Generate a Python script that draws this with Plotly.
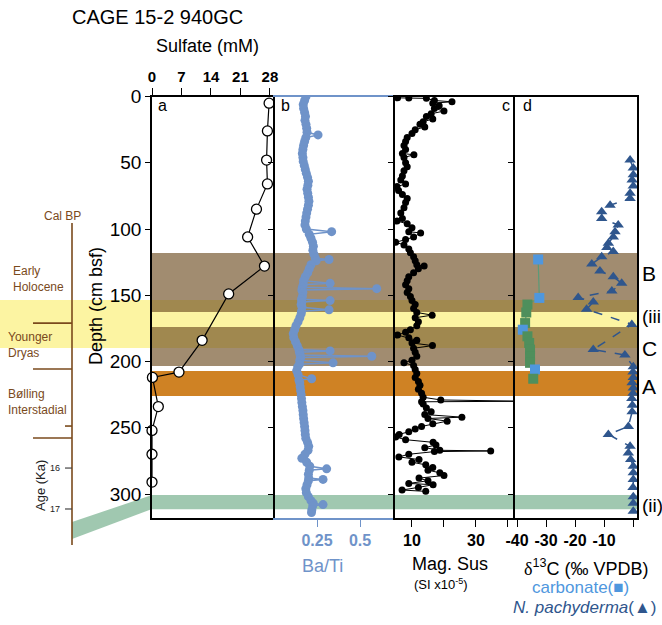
import plotly.graph_objects as go

W, H = 662, 625


def px(x):
    return x / W


def py(y):
    return 1 - y / H


FONT = "Liberation Sans, Arial, sans-serif"

# ---------------- data ----------------
sulfate_depth = [5, 26, 48, 66, 85, 106, 128, 149, 184, 208, 212, 234, 252, 270, 291]
sulfate_mM = [27.8, 27.4, 27.2, 27.4, 24.8, 22.7, 26.7, 18.2, 11.9, 6.4, 0.1, 1.5, 0.0, 0.0, 0.0]

baTi_depth = [
    0, 3, 6, 9, 12, 15, 18, 21, 24, 27,
    29, 31, 34, 37, 40, 43, 46, 49, 52, 55,
    58, 61, 64, 67, 70, 73, 76, 79, 82, 85,
    88, 91, 94, 97, 100, 102, 104, 107, 110, 113,
    116, 119, 122, 123, 124, 127, 130, 133, 136, 139,
    141, 142, 144, 145, 146, 148, 151, 153, 154, 155,
    157, 159, 161, 162, 164, 167, 170, 173, 176, 179,
    182, 185, 188, 191, 192, 193, 195, 196, 197, 199,
    201, 202, 204, 207, 210, 213, 214, 216, 219, 222,
    225, 228, 231, 234, 237, 240, 243, 246, 249, 252,
    255, 258, 261, 264, 267, 270, 273, 276, 279, 281,
    282, 285, 288, 289, 290, 293, 296, 299, 302, 305,
    307, 308, 309, 312, 314,
]
baTi_ratio = [
    0.186, 0.178, 0.170, 0.172, 0.178, 0.183, 0.180, 0.186, 0.190, 0.192,
    0.256, 0.185, 0.178, 0.172, 0.168, 0.165, 0.168, 0.170, 0.176, 0.182,
    0.188, 0.195, 0.200, 0.197, 0.192, 0.196, 0.200, 0.203, 0.200, 0.195,
    0.190, 0.186, 0.182, 0.180, 0.188, 0.335, 0.205, 0.215, 0.224, 0.229,
    0.226, 0.232, 0.240, 0.320, 0.245, 0.215, 0.205, 0.196, 0.182, 0.172,
    0.326, 0.170, 0.165, 0.597, 0.162, 0.168, 0.165, 0.160, 0.326, 0.162,
    0.158, 0.163, 0.320, 0.160, 0.158, 0.150, 0.140, 0.128, 0.120, 0.112,
    0.115, 0.125, 0.135, 0.145, 0.326, 0.148, 0.152, 0.568, 0.155, 0.150,
    0.343, 0.148, 0.138, 0.132, 0.140, 0.219, 0.145, 0.150, 0.152, 0.155,
    0.158, 0.160, 0.162, 0.165, 0.168, 0.170, 0.172, 0.175, 0.178, 0.180,
    0.182, 0.185, 0.195, 0.202, 0.198, 0.180, 0.162, 0.190, 0.208, 0.306,
    0.205, 0.200, 0.202, 0.285, 0.200, 0.192, 0.185, 0.188, 0.200, 0.215,
    0.228, 0.285, 0.225, 0.220, 0.218,
]

magsus_depth = [
    1.0, 1.2, 1.4, 3, 4, 5, 7, 9, 11, 13,
    15, 17, 19, 21, 23, 25, 28, 31, 34, 37,
    40, 43, 44, 46, 50, 53, 56, 60, 63, 66,
    68, 71, 74, 77, 80, 84, 88, 92, 94, 96,
    99, 102, 103, 106, 108, 110, 112, 115, 118, 121,
    124, 127, 128, 130, 133, 136, 139, 142, 145, 148,
    151, 154, 157, 160, 163, 165, 167, 170, 173, 176,
    178, 180, 182, 184, 186, 188, 190, 193, 196, 199,
    201, 203, 206, 209, 212, 215, 218, 221, 224, 227,
    229, 230, 230.4, 232, 235, 238, 240, 242, 243, 245,
    247, 249, 251, 253, 255, 257, 259, 261, 263, 265,
    267, 267.5, 268, 270, 272, 274, 276, 278, 280, 282,
    284, 286, 288, 290, 292, 293, 295, 297, 298,
]
magsus_SI = [
    5.5, 9.0, 14.5, 17.0, 22.5, 16.5, 18.5, 17.0, 20.0, 16.0,
    14.5, 16.5, 13.5, 12.5, 14.0, 11.0, 10.0, 8.5, 8.0, 7.5,
    8.0, 7.0, 10.6, 7.5, 8.0, 8.5, 7.5, 7.0, 6.5, 8.0,
    5.3, 5.8, 7.0, 8.5, 8.0, 7.5, 6.5, 7.0, 5.3, 8.5,
    10.0, 9.0, 12.7, 10.5, 8.0, 4.9, 7.5, 9.0, 9.5, 10.5,
    11.0, 11.5, 13.8, 12.0, 10.5, 9.0, 8.5, 8.0, 9.0, 8.5,
    9.5, 10.0, 11.0, 10.5, 11.5, 16.3, 11.0, 12.0, 11.5, 9.5,
    8.0, 5.5, 9.0, 11.5, 10.0, 16.4, 10.5, 11.0, 11.5, 10.0,
    7.5, 10.5, 11.0, 11.5, 11.0, 12.0, 12.5, 12.0, 13.0, 13.5,
    19.0, 45.0, 13.0, 13.5, 14.5, 16.0, 14.0, 25.6, 15.0, 21.0,
    16.5, 13.0, 11.0, 9.0, 6.0, 4.9, 8.0, 16.6, 17.5, 14.0,
    18.7, 34.6, 17.0, 9.0, 5.9, 12.2, 10.0, 14.3, 16.5, 15.0,
    18.7, 20.0, 12.2, 15.0, 9.0, 16.6, 12.0, 6.9, 14.3,
]

carb_depth = [123, 152, 157, 163, 171, 176, 181, 186, 191, 196, 201, 206, 213]
carb_d13C = [-32.7, -32.3, -36.4, -36.8, -37.2, -38.0, -36.4, -35.8, -35.5, -35.5, -35.5, -33.8, -34.4]
carb_kind = ["blue", "blue", "green", "green", "green", "blue", "green", "green", "green", "green", "green", "blue", "green"]

npac_depth = [
    48, 54, 59, 63, 67.5, 73, 77, 82, 87, 92,
    97, 102, 106, 110.7, 114, 117, 121, 126.4, 131.7, 136,
    141, 146.8, 151.6, 155, 160.6, 172, 191, 195, 204, 208,
    212, 216, 220, 224, 228, 233, 238, 249, 255, 264,
    269, 274, 279, 284, 289, 295, 302, 307, 313,
]
npac_d13C = [
    -1.0, 0.1, 0.1, -0.3, 0.1, -1.0, -1.0, -7.9, -10.8, -10.8,
    -5.1, -6.2, -6.8, -8.5, -9.0, -6.8, -10.8, -14.2, -11.4, -6.8,
    -3.9, -7.3, -18.9, -13.7, -16.0, -0.4, -13.7, -2.8, 0.1, 0.0,
    0.1, -0.3, 0.1, 0.0, -0.4, -0.2, -0.3, -1.6, -8.5, -1.0,
    -1.6, -0.8, 0.1, 0.1, 0.1, 0.0, 0.1, 0.1, 0.1,
]

# depth intervals of highlighted horizons (cm bsf)
yellow_band = (153.6, 189.8)      # Younger Dryas
brown_B = (118.1, 162.6)
brown_C = (173.9, 203.4)
orange_A = (207.2, 226.0)
green_ii = (300.8, 311.5)

# chronology boundaries on the left scale (depth-equivalent)
chron_long_ticks = [171.0, 205.7, 257.7]
chron_short_ticks = [248.7]
age_ticks_depth = [280.4, 311.3]
age_tick_labels = ["16", "17"]

# ---------------- colours ----------------
BATI_C = "#6f93c9"
NPAC_C = "#2f568d"
CARB_BLUE = "#4f97de"
CARB_GREEN = "#4f8f5c"
BROWN_TXT = "#7a4a1c"

# ---------------- figure ----------------
fig = go.Figure()

fig.add_trace(go.Scatter(
    x=sulfate_mM, y=sulfate_depth, xaxis="x", yaxis="y", mode="lines+markers",
    line=dict(color="black", width=1.2),
    marker=dict(symbol="circle", size=10, color="white", line=dict(color="black", width=1.3)),
    cliponaxis=False, showlegend=False))

fig.add_trace(go.Scatter(
    x=baTi_ratio, y=baTi_depth, xaxis="x2", yaxis="y2", mode="lines+markers",
    line=dict(color=BATI_C, width=1.5),
    marker=dict(size=9, color=BATI_C), showlegend=False))

fig.add_trace(go.Scatter(
    x=magsus_SI, y=magsus_depth, xaxis="x3", yaxis="y3", mode="lines+markers",
    line=dict(color="black", width=1),
    marker=dict(size=7, color="black"), showlegend=False))

fig.add_trace(go.Scatter(
    x=carb_d13C, y=carb_depth, xaxis="x4", yaxis="y4", mode="lines+markers",
    line=dict(color="#5a9a78", width=1.2),
    marker=dict(symbol="square", size=10,
                color=[CARB_BLUE if k == "blue" else CARB_GREEN for k in carb_kind]),
    cliponaxis=False, showlegend=False))

fig.add_trace(go.Scatter(
    x=npac_d13C, y=npac_depth, xaxis="x4", yaxis="y4", mode="lines+markers",
    line=dict(color=NPAC_C, width=1.5, dash="dash"),
    marker=dict(symbol="triangle-up", size=10, color=NPAC_C),
    cliponaxis=False, showlegend=False))

# ---------------- bands ----------------
shapes = []
shapes.append(dict(type="rect", xref="paper", yref="y", x0=0, x1=px(637),
                   y0=yellow_band[0], y1=yellow_band[1], fillcolor="#fcf4a2",
                   line=dict(width=0), layer="below"))
for b in (brown_B, brown_C):
    shapes.append(dict(type="rect", xref="paper", yref="y", x0=px(152), x1=px(637),
                       y0=b[0], y1=b[1], fillcolor="rgba(110,78,36,0.65)",
                       line=dict(width=0), layer="below"))
shapes.append(dict(type="rect", xref="paper", yref="y", x0=px(152), x1=px(637),
                   y0=orange_A[0], y1=orange_A[1], fillcolor="#cf8224",
                   line=dict(width=0), layer="below"))
shapes.append(dict(type="rect", xref="paper", yref="y", x0=px(152), x1=px(637),
                   y0=green_ii[0], y1=green_ii[1], fillcolor="#a0c8b0",
                   line=dict(width=0), layer="below"))
shapes.append(dict(type="path", xref="paper", yref="paper",
                   path=f"M {px(152)} {py(495)} L {px(152)} {py(509)} L {px(72)} {py(539)} L {px(72)} {py(522)} Z",
                   fillcolor="#a0c8b0", line=dict(width=0), layer="below"))

shapes.append(dict(type="line", xref="paper", yref="paper", x0=px(72), x1=px(72),
                   y0=py(223), y1=py(545), line=dict(color=BROWN_TXT, width=1.6)))
for d in chron_long_ticks:
    shapes.append(dict(type="line", xref="paper", yref="y", x0=px(33), x1=px(72),
                       y0=d, y1=d, line=dict(color=BROWN_TXT, width=1.6)))
for d in chron_short_ticks:
    shapes.append(dict(type="line", xref="paper", yref="y", x0=px(65), x1=px(72),
                       y0=d, y1=d, line=dict(color=BROWN_TXT, width=1.6)))
for d in age_ticks_depth:
    shapes.append(dict(type="line", xref="paper", yref="y", x0=px(65), x1=px(72),
                       y0=d, y1=d, line=dict(color="#444444", width=1.2)))

# ---------------- annotations ----------------
ann = []


def txt(x, y, s, size, color="black", xanchor="center", yanchor="middle", angle=0, **kw):
    ann.append(dict(x=px(x), y=py(y), xref="paper", yref="paper", text=s, showarrow=False,
                    font=dict(family=FONT, size=size, color=color), xanchor=xanchor,
                    yanchor=yanchor, textangle=angle, **kw))


txt(157, 17, "CAGE 15-2 940GC", 20)
txt(207, 46, "Sulfate (mM)", 18)
txt(96, 306, "Depth (cm bsf)", 18, angle=-90)
txt(156, 106, "a", 16, xanchor="left")
txt(279, 106, "b", 16, xanchor="left")
txt(512, 106, "c", 16, xanchor="right")
txt(521, 106, "d", 16, xanchor="left")

txt(640, 273, "B", 21, xanchor="left")
txt(640, 316, "(iii", 19, xanchor="left")
txt(640, 348, "C", 21, xanchor="left")
txt(640, 386, "A", 21, xanchor="left")
txt(640, 505, "(ii)", 19, xanchor="left")

txt(62, 216, "Cal BP", 12, BROWN_TXT)
txt(11, 279, "Early<br>Holocene", 12, BROWN_TXT, xanchor="left", align="left")
txt(6, 345, "Younger<br>Dryas", 12, BROWN_TXT, xanchor="left", align="left")
txt(6, 402, "Bølling<br>Interstadial", 12, BROWN_TXT, xanchor="left", align="left")
txt(40, 486, "Age (Ka)", 13, "#222222", angle=-90)
for d, lab in zip(age_ticks_depth, age_tick_labels):
    ann.append(dict(x=px(62), y=d, xref="paper", yref="y", text=lab, showarrow=False,
                    font=dict(family=FONT, size=9, color="#222222"), xanchor="right"))

txt(322, 566, "Ba/Ti", 18, BATI_C)
txt(450, 564, "Mag. Sus", 18)
txt(441, 584, "(SI x10<sup>-5</sup>)", 13)
txt(586, 567, "<span style='font-family:Liberation Serif'>δ</span><sup>13</sup>C (‰ VPDB)", 18)
txt(580, 587, "carbonate(■)", 17, CARB_BLUE)
txt(584, 607, "<i>N. pachyderma</i>(▲)", 17, NPAC_C)

# ---------------- axes ----------------
ydom = [py(518), py(96.5)]
yrange = [318.1, 0]
common_y = dict(domain=ydom, range=yrange, showgrid=False, zeroline=False,
                showline=True, linecolor="black", linewidth=1.5,
                ticks="outside", ticklen=5, tickcolor="black", automargin=False,
                tickvals=[0, 50, 100, 150, 200, 250, 300])

ax_common = dict(showgrid=False, zeroline=False, showline=True, mirror=True,
                 ticks="outside", ticklen=7, linewidth=1.5, automargin=False)

fig.update_layout(
    template="none",
    width=W, height=H, autosize=False,
    margin=dict(l=0, r=0, t=0, b=0, pad=0, autoexpand=False),
    paper_bgcolor="white", plot_bgcolor="rgba(0,0,0,0)",
    font=dict(family=FONT, color="black"),
    shapes=shapes, annotations=ann, showlegend=False,
    xaxis=dict(domain=[px(152), px(275)], range=[0, 29.2], anchor="y", side="top",
               tickvals=[0, 7, 14, 21, 28], linecolor="black", tickcolor="black",
               tickfont=dict(size=15, weight="bold"), **ax_common),
    xaxis2=dict(domain=[px(275), px(395)], range=[0.006, 0.703], anchor="y2", side="bottom",
                tickvals=[0.25, 0.5], ticktext=["0.25", "0.5"],
                linecolor=BATI_C, tickcolor=BATI_C,
                tickfont=dict(size=16, weight="bold", color=BATI_C), **ax_common),
    xaxis3=dict(domain=[px(395), px(515)], range=[4.69, 42.2], anchor="y3", side="bottom",
                tickvals=[10, 30], ticktext=["10", "30"],
                minor=dict(tickvals=[20, 40], ticks="outside", ticklen=7, tickcolor="black"),
                linecolor="black", tickcolor="black",
                tickfont=dict(size=16, weight="bold"), **ax_common),
    xaxis4=dict(domain=[px(515), px(637)], range=[-40.69, 1.38], anchor="y4", side="bottom",
                tickvals=[-40, -30, -20, -10], ticktext=["-40", "-30", "-20", "-10"],
                minor=dict(tickvals=[0], ticks="outside", ticklen=7, tickcolor="black"),
                linecolor="black", tickcolor="black",
                tickfont=dict(size=16, weight="bold"), **ax_common),
    yaxis=dict(anchor="x", tickfont=dict(size=19), **common_y),
    yaxis2=dict(anchor="x2", showticklabels=False, matches="y", **common_y),
    yaxis3=dict(anchor="x3", showticklabels=False, matches="y", **common_y),
    yaxis4=dict(anchor="x4", showticklabels=False, matches="y", mirror=True, **common_y),
)

fig.write_html("out.html", config={"displayModeBar": False},
               post_script="document.body.style.margin='0px';")
